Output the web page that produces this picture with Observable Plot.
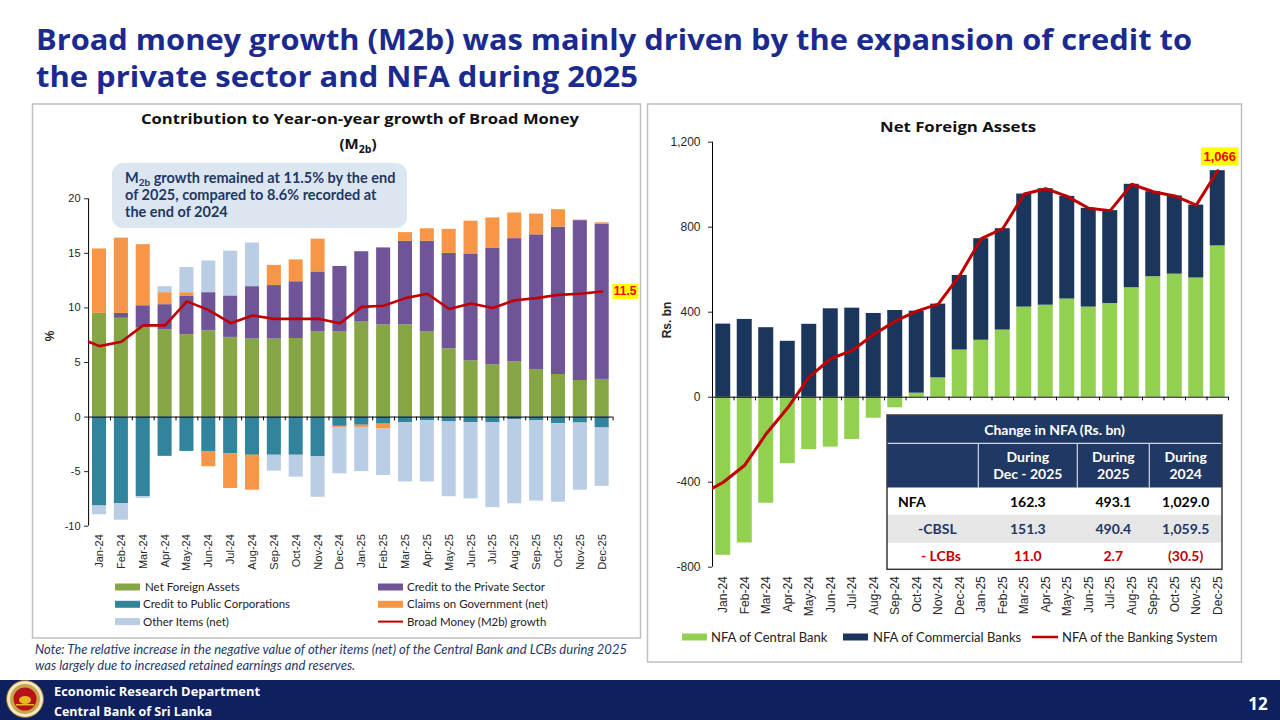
<!DOCTYPE html>
<html>
<head>
<meta charset="utf-8">
<script src="https://cdn.jsdelivr.net/npm/d3@7"></script>
<script src="https://cdn.jsdelivr.net/npm/@observablehq/plot@0.6"></script>
<style>
  html, body { margin: 0; padding: 0; background: #fff; }
  body { width: 1280px; height: 720px; position: relative; overflow: hidden; font-family: Lato, "Liberation Sans", sans-serif; }
  #left-chart { position: absolute; left: 30px; top: 190px; }
  #right-chart { position: absolute; left: 650px; top: 135px; }
  #overlay { position: absolute; left: 0; top: 0; pointer-events: none; }
  svg.plot { overflow: visible; }
</style>
</head>
<body>
<div id="left-chart"></div>
<div id="right-chart"></div>
<svg id="overlay" width="1280" height="720"></svg>
<script>
// ---- Month categories (shared by both charts) ----
const months = ["Jan-24","Feb-24","Mar-24","Apr-24","May-24","Jun-24","Jul-24","Aug-24","Sep-24","Oct-24","Nov-24","Dec-24",
                "Jan-25","Feb-25","Mar-25","Apr-25","May-25","Jun-25","Jul-25","Aug-25","Sep-25","Oct-25","Nov-25","Dec-25"];

// ---- Contribution to y-o-y growth of M2b (percentage points) ----
const nfaContribution        = [9.5, 9.05, 8.2, 8.0, 7.55, 7.9, 7.3, 7.15, 7.15, 7.2, 7.8, 7.8, 8.7, 8.45, 8.45, 7.8, 6.25, 5.15, 4.8, 5.05, 4.35, 3.9, 3.35, 3.45];
const privateCreditContribution = [0, 0.45, 2.0, 2.3, 3.5, 3.5, 3.8, 4.8, 4.9, 5.2, 5.5, 6.0, 6.45, 7.05, 7.65, 8.3, 8.75, 9.8, 10.65, 11.3, 12.35, 13.5, 14.65, 14.2];
const publicCorpContribution = [-8.15, -7.95, -7.3, -3.6, -3.15, -3.15, -3.35, -3.5, -3.5, -3.5, -3.65, -0.85, -0.75, -0.65, -0.5, -0.35, -0.45, -0.5, -0.5, -0.25, -0.35, -0.6, -0.55, -1.0];
const govClaimsContribution  = [5.9, 6.9, 5.6, 1.1, 0.35, -1.4, -3.2, -3.2, 1.85, 2.0, 3.0, -0.1, -0.2, -0.45, 0.8, 1.15, 2.2, 3.0, 2.8, 2.35, 1.9, 1.6, 0.05, 0.15];
const otherItemsContribution = [-0.8, -1.5, -0.15, 0.55, 2.3, 2.9, 4.1, 4.0, -1.45, -2.0, -3.7, -4.25, -4.05, -4.25, -5.45, -5.6, -6.85, -7.0, -7.8, -7.7, -7.35, -7.2, -6.15, -5.35];
// Broad money (M2b) y-o-y growth, %
const m2bGrowth = [6.5, 6.9, 8.4, 8.4, 10.6, 9.8, 8.6, 9.3, 9.0, 9.0, 9.0, 8.6, 10.1, 10.2, 10.9, 11.3, 9.9, 10.4, 10.0, 10.7, 10.9, 11.2, 11.3, 11.5];
const m2bGrowthDec23 = 7.3; // previous month, only the entry segment of the line shows

const leftSeriesNames = ["Net Foreign Assets", "Credit to the Private Sector", "Credit to  Public Corporations", "Claims on Government (net)", "Other Items (net)"];
const leftSeriesValues = [nfaContribution, privateCreditContribution, publicCorpContribution, govClaimsContribution, otherItemsContribution];
const leftColors = ["#86A544", "#6F5597", "#31849B", "#F79646", "#B9CDE5"];
const leftLineName = "Broad Money (M2b) growth";

// ---- Net foreign assets (Rs. bn) ----
const cbNFA  = [-744, -686, -499, -313, -247, -235, -199, -99, -50, 19, 91, 222, 268, 316, 424, 433, 462, 424, 441, 515, 567, 579, 561, 712];
const lcbNFA = [344, 366, 327, 263, 343, 416, 419, 394, 408, 386, 347, 351, 478, 477, 532, 548, 483, 465, 437, 487, 400, 368, 343, 354];
const rightSeriesNames = ["NFA of Central Bank", "NFA of Commercial Banks"];
const rightColors = ["#92D050", "#1B365D"];
const rightLineName = "NFA of the Banking System";

// ---- Change in NFA table ----
const tableTitle = "Change in NFA (Rs. bn)";
const tableHeads = [["During", "Dec - 2025"], ["During", "2025"], ["During", "2024"]];
const tableRowLabels = ["NFA", "-CBSL", "- LCBs"];
const tableNFA  = ["162.3", "493.1", "1,029.0"];
const tableCBSL = ["151.3", "490.4", "1,059.5"];
const tableLCB  = ["11.0", "2.7", "(30.5)"];
const nfaChangeDuring2024 = 1029.0;

// ---- Tick labels ----
const leftYTicks = [-10, -5, 0, 5, 10, 15, 20];
const rightYTicks = [-800, -400, 0, 400, 800, 1200];

const RED = "#C00000";
const idx = d3.range(months.length);
const boundaries = d3.range(months.length + 1).map(k => k - 0.5);
const ARIAL = "'Liberation Sans', Arial, sans-serif";

// ================= Left chart: contributions to M2b growth =================
const leftBars = [];
leftSeriesNames.forEach((name, s) => leftSeriesValues[s].forEach((v, i) => leftBars.push({i, series: name, value: v})));
const leftLine = [{i: -1, value: m2bGrowthDec23}, ...m2bGrowth.map((v, i) => ({i, value: v}))];
const leftLast = leftLine[leftLine.length - 1];

const leftPlot = Plot.plot({
  width: 610, height: 390,
  marginTop: 8.3, marginBottom: 54.3, marginLeft: 58.1, marginRight: 27.4,
  x: {type: "linear", domain: [-0.5, months.length - 0.5]},
  y: {domain: [-10, 20]},
  color: {domain: leftSeriesNames, range: leftColors},
  style: {fontFamily: ARIAL, fontSize: "11px", color: "#262626", background: "transparent", overflow: "visible"},
  marks: [
    Plot.rectY(leftBars, Plot.stackY({x1: d => d.i - 0.5, x2: d => d.i + 0.5, y: "value", fill: "series", insetLeft: 3.9, insetRight: 3.9})),
    Plot.ruleY([0], {stroke: "#000", strokeWidth: 1}),
    Plot.ruleX([-0.5], {stroke: "#000", strokeWidth: 1}),
    Plot.ruleX(boundaries, {x: d => d, y1: 0, y2: -0.35, stroke: "#000", strokeWidth: 1}),
    Plot.axisY({ticks: leftYTicks, tickFormat: d => String(d), tickSize: 4, tickPadding: 4, label: null}),
    Plot.axisX({ticks: idx, tickFormat: i => months[i], tickRotate: -90, tickSize: 0, tickPadding: 8, label: null}),
    Plot.line(leftLine, {x: "i", y: "value", stroke: RED, strokeWidth: 2.6, clip: true}),
    Plot.text([leftLast], {x: "i", y: "value", text: d => d3.format(".1f")(d.value), dx: 23, fill: "#FF0000", fontWeight: "bold", fontSize: 12, fontFamily: ARIAL})
  ]
});
document.getElementById("left-chart").append(leftPlot);

// ================= Right chart: net foreign assets =================
const rightBars = [];
[cbNFA, lcbNFA].forEach((vals, s) => vals.forEach((v, i) => rightBars.push({i, series: rightSeriesNames[s], value: v})));
const nfaTotal = idx.map(i => cbNFA[i] + lcbNFA[i]);
const nfaTotalDec23 = nfaTotal[11] - nfaChangeDuring2024;
const rightLine = [{i: -1, value: nfaTotalDec23}, ...nfaTotal.map((v, i) => ({i, value: v}))];
const rightLast = rightLine[rightLine.length - 1];

const rightPlot = Plot.plot({
  width: 590, height: 490,
  marginTop: 6.7, marginBottom: 58.3, marginLeft: 62, marginRight: 12,
  x: {type: "linear", domain: [-0.5, months.length - 0.5]},
  y: {domain: [-800, 1200]},
  color: {domain: rightSeriesNames, range: rightColors},
  style: {fontFamily: ARIAL, fontSize: "12px", color: "#262626", background: "transparent", overflow: "visible"},
  marks: [
    Plot.rectY(rightBars, Plot.stackY({x1: d => d.i - 0.5, x2: d => d.i + 0.5, y: "value", fill: "series", insetLeft: 3.25, insetRight: 3.25})),
    Plot.ruleY([0], {stroke: "#000", strokeWidth: 1}),
    Plot.ruleX([-0.5], {stroke: "#000", strokeWidth: 1}),
    Plot.ruleX(boundaries, {x: d => d, y1: 0, y2: -17, stroke: "#000", strokeWidth: 1}),
    Plot.axisY({ticks: rightYTicks, tickFormat: d => d.toLocaleString("en-US"), tickSize: 4, tickPadding: 8, label: null}),
    Plot.axisX({ticks: idx, tickFormat: i => months[i], tickRotate: -90, tickSize: 0, tickPadding: 9, label: null}),
    Plot.line(rightLine, {x: "i", y: "value", stroke: RED, strokeWidth: 3, clip: true}),
    Plot.text([rightLast], {x: "i", y: "value", text: d => d3.format(",.0f")(d.value), dx: 2, dy: -14, fill: "#FF0000", fontWeight: "bold", fontSize: 13, fontFamily: ARIAL})
  ]
});
document.getElementById("right-chart").append(rightPlot);

// Yellow highlight boxes behind the value call-outs
function highlight(svg, label, padX, padY) {
  d3.select(svg).selectAll("text").filter(function() { return this.textContent === label; }).each(function() {
    const b = this.getBBox();
    const r = d3.select(this.parentNode).insert("rect", () => this)
      .attr("x", b.x - padX).attr("y", b.y - padY)
      .attr("width", b.width + 2 * padX).attr("height", b.height + 2 * padY)
      .attr("fill", "#FFFF00");
    const tr = this.getAttribute("transform");
    if (tr) r.attr("transform", tr);
  });
}
highlight(leftPlot, d3.format(".1f")(leftLast.value), 1.5, 0.5);
highlight(rightPlot, d3.format(",.0f")(rightLast.value), 2.5, 1.5);

// ================= Slide furniture =================
const ov = d3.select("#overlay");
const SANS = "Lato, 'Liberation Sans', sans-serif";
const WIDE = "'Open Sans', Lato, sans-serif";
const NAVY = "#1F3864";
// fixed-width text helper
function fit(sel, w) { return sel.attr("textLength", w).attr("lengthAdjust", "spacingAndGlyphs"); }

// Headline
const title = ov.append("g").attr("font-family", WIDE).attr("font-weight", 700).attr("font-size", 28).attr("fill", "#1B2A8E");
fit(title.append("text").attr("x", 36).attr("y", 50).text("Broad money growth (M2b) was mainly driven by the expansion of credit to"), 1156);
fit(title.append("text").attr("x", 36).attr("y", 87).text("the private sector and NFA during 2025"), 602);

// Panel frames
ov.append("rect").attr("x", 32.5).attr("y", 104).attr("width", 608).attr("height", 534).attr("fill", "none").attr("stroke", "#BFBFBF").attr("stroke-width", 1.5);
ov.append("rect").attr("x", 647.5).attr("y", 104).attr("width", 594).attr("height", 558).attr("fill", "none").attr("stroke", "#BFBFBF").attr("stroke-width", 1.5);

// Left chart title
const lt = ov.append("g").attr("font-family", WIDE).attr("font-weight", 700).attr("font-size", 15).attr("fill", "#111");
fit(lt.append("text").attr("x", 141).attr("y", 124).text("Contribution to Year-on-year growth of Broad Money"), 438);
const lt2 = lt.append("text").attr("x", 358).attr("y", 149).attr("text-anchor", "middle");
lt2.append("tspan").text("(M");
lt2.append("tspan").attr("font-size", 10.5).attr("dy", 4).text("2b");
lt2.append("tspan").attr("dy", -4).text(")");

// Annotation box
ov.append("rect").attr("x", 112).attr("y", 163).attr("width", 295).attr("height", 65).attr("rx", 11).attr("fill", "#DCE6F1");
const ann = ov.append("g").attr("font-family", SANS).attr("font-weight", 700).attr("font-size", 14.5).attr("fill", NAVY);
const a1 = ann.append("text").attr("x", 125).attr("y", 183);
a1.append("tspan").text("M");
a1.append("tspan").attr("font-size", 10).attr("dy", 3).text("2b");
a1.append("tspan").attr("dy", -3).text(" growth remained at 11.5% by the end");
ann.append("text").attr("x", 125).attr("y", 200).text("of 2025, compared to 8.6% recorded at");
ann.append("text").attr("x", 125).attr("y", 217).text("the end of 2024");

// Axis titles
ov.append("text").attr("transform", "translate(54,336) rotate(-90)").attr("text-anchor", "middle")
  .attr("font-family", ARIAL).attr("font-size", 12).attr("font-weight", 700).attr("fill", "#262626").text("%");
ov.append("text").attr("transform", "translate(671,320) rotate(-90)").attr("text-anchor", "middle")
  .attr("font-family", ARIAL).attr("font-size", 12).attr("font-weight", 700).attr("fill", "#262626").text("Rs. bn");

// Left legend (two columns)
const leftLegend = [
  {label: leftSeriesNames[0], color: leftColors[0], col: 0, row: 0, tx: 145},
  {label: leftSeriesNames[2], color: leftColors[2], col: 0, row: 1, tx: 143},
  {label: leftSeriesNames[4], color: leftColors[4], col: 0, row: 2, tx: 143},
  {label: leftSeriesNames[1], color: leftColors[1], col: 1, row: 0, tx: 407},
  {label: leftSeriesNames[3], color: leftColors[3], col: 1, row: 1, tx: 407},
  {label: leftLineName, color: RED, col: 1, row: 2, tx: 407, line: true}
];
const llg = ov.append("g").attr("font-family", SANS).attr("font-size", 11.5).attr("fill", "#222");
leftLegend.forEach(d => {
  const sx = d.col === 0 ? 115 : 378;
  const cy = 587 + d.row * 17.3;
  if (d.line) llg.append("rect").attr("x", sx).attr("y", cy - 1).attr("width", 25).attr("height", 2).attr("fill", d.color);
  else llg.append("rect").attr("x", sx).attr("y", cy - 3.5).attr("width", 25).attr("height", 7).attr("fill", d.color);
  llg.append("text").attr("x", d.tx).attr("y", cy + 4).text(d.label);
});

// Note under the left panel
const note = ov.append("g").attr("font-family", SANS).attr("font-style", "italic").attr("font-size", 13).attr("fill", NAVY);
fit(note.append("text").attr("x", 35).attr("y", 654).text("Note: The relative increase in the negative value of other items (net) of the Central Bank and LCBs during 2025"), 592);
note.append("text").attr("x", 35).attr("y", 670).text("was largely due to increased retained earnings and reserves.");

// Right chart title
fit(ov.append("text").attr("x", 880).attr("y", 132).attr("font-family", WIDE)
  .attr("font-weight", 700).attr("font-size", 15).attr("fill", "#111").text("Net Foreign Assets"), 156);

// Right legend
const rightLegend = [
  {label: rightSeriesNames[0], color: rightColors[0], sx: 682, tx: 711},
  {label: rightSeriesNames[1], color: rightColors[1], sx: 843, tx: 873},
  {label: rightLineName, color: RED, sx: 1032, tx: 1062, line: true}
];
const rlg = ov.append("g").attr("font-family", SANS).attr("font-size", 13).attr("fill", "#222");
rightLegend.forEach(d => {
  const cy = 637;
  if (d.line) rlg.append("rect").attr("x", d.sx).attr("y", cy - 1.25).attr("width", 26).attr("height", 2.5).attr("fill", d.color);
  else rlg.append("rect").attr("x", d.sx).attr("y", cy - 3.5).attr("width", 25).attr("height", 7).attr("fill", d.color);
  rlg.append("text").attr("x", d.tx).attr("y", cy + 4.5).text(d.label);
});

// NFA change table
const tb = ov.append("g").attr("font-family", SANS).attr("font-weight", 700).attr("font-size", 14);
const TX0 = 887, TX1 = 1222;
const colEdges = [TX0, 978.3, 1077.3, 1149.3, TX1];
const colMid = [0, 1, 2].map(c => (colEdges[c + 1] + colEdges[c + 2]) / 2);
const rowTops = [415, 443.3, 487.7, 515, 542.7, 569.3];
tb.append("rect").attr("x", TX0).attr("y", rowTops[0]).attr("width", TX1 - TX0).attr("height", rowTops[2] - rowTops[0]).attr("fill", "#203864");
tb.append("rect").attr("x", TX0).attr("y", rowTops[2]).attr("width", TX1 - TX0).attr("height", rowTops[5] - rowTops[2]).attr("fill", "#fff");
tb.append("rect").attr("x", TX0).attr("y", rowTops[3]).attr("width", TX1 - TX0).attr("height", rowTops[4] - rowTops[3]).attr("fill", "#E7E6E6");
tb.append("line").attr("x1", TX0).attr("x2", TX1).attr("y1", rowTops[1]).attr("y2", rowTops[1]).attr("stroke", "#D0D7E5").attr("stroke-width", 1.2);
colEdges.slice(1, 4).forEach(x => tb.append("line").attr("x1", x).attr("x2", x).attr("y1", rowTops[1]).attr("y2", rowTops[2]).attr("stroke", "#D0D7E5").attr("stroke-width", 1.2));
tb.append("rect").attr("x", TX0).attr("y", rowTops[0]).attr("width", TX1 - TX0).attr("height", rowTops[5] - rowTops[0]).attr("fill", "none").attr("stroke", "#3A3A3A").attr("stroke-width", 1.5);
tb.append("text").attr("x", (TX0 + TX1) / 2).attr("y", 435).attr("text-anchor", "middle").attr("fill", "#fff").text(tableTitle);
tableHeads.forEach((h, c) => {
  tb.append("text").attr("x", colMid[c]).attr("y", 461.5).attr("text-anchor", "middle").attr("fill", "#fff").text(h[0]);
  tb.append("text").attr("x", colMid[c]).attr("y", 478.5).attr("text-anchor", "middle").attr("fill", "#fff").text(h[1]);
});
const rowStyle = [{fill: "#000", lx: 898, by: 506.5}, {fill: NAVY, lx: 918, by: 533.5}, {fill: RED, lx: 921, by: 560.5}];
[tableNFA, tableCBSL, tableLCB].forEach((vals, r) => {
  const st = rowStyle[r];
  tb.append("text").attr("x", st.lx).attr("y", st.by).attr("fill", st.fill).text(tableRowLabels[r]);
  vals.forEach((v, c) => tb.append("text").attr("x", colMid[c]).attr("y", st.by).attr("text-anchor", "middle").attr("fill", st.fill).text(v));
});

// Footer band
ov.append("rect").attr("x", 0).attr("y", 680).attr("width", 1280).attr("height", 40).attr("fill", "#0E215E");
const logo = ov.append("g").attr("transform", "translate(25,699)");
logo.append("circle").attr("r", 18.5).attr("fill", "#F3E7C0").attr("stroke", "#8B6A2B").attr("stroke-width", 1);
logo.append("circle").attr("r", 15).attr("fill", "#C9A44A");
logo.append("circle").attr("r", 11.5).attr("fill", "#B5121B");
logo.append("ellipse").attr("rx", 6).attr("ry", 4).attr("cy", 1).attr("fill", "#E8B923");
logo.append("rect").attr("x", -9).attr("y", 5).attr("width", 18).attr("height", 1.5).attr("fill", "#E8B923");
const ft = ov.append("g").attr("font-family", WIDE).attr("font-weight", 700).attr("font-size", 12.5).attr("fill", "#fff");
fit(ft.append("text").attr("x", 54).attr("y", 696).text("Economic Research Department"), 206);
fit(ft.append("text").attr("x", 54).attr("y", 716).text("Central Bank of Sri Lanka"), 158);
ov.append("text").attr("x", 1258).attr("y", 710).attr("text-anchor", "middle").attr("font-family", WIDE)
  .attr("font-weight", 700).attr("font-size", 17).attr("fill", "#fff").text("12");
</script>
</body>
</html>
